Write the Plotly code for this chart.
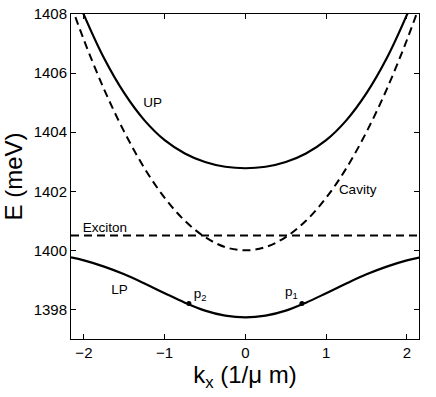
import plotly.graph_objects as go

# wavevector samples (1/um) and energies (meV)
k_values = [-2.16, -2.0, -1.75, -1.5, -1.25, -1.0, -0.75, -0.5, -0.25, 0.0,
            0.25, 0.5, 0.75, 1.0, 1.25, 1.5, 1.75, 2.0, 2.16]
upper_polariton = [1409.04, 1407.97, 1406.50, 1405.32, 1404.40, 1403.73, 1403.28, 1402.99, 1402.83, 1402.78,
                   1402.83, 1402.99, 1403.28, 1403.73, 1404.40, 1405.32, 1406.50, 1407.97, 1409.04]
lower_polariton = [1399.76, 1399.66, 1399.45, 1399.19, 1398.88, 1398.55, 1398.23, 1397.96, 1397.79, 1397.73,
                   1397.79, 1397.96, 1398.23, 1398.55, 1398.88, 1399.19, 1399.45, 1399.66, 1399.76]
cavity_mode = [1408.31, 1407.12, 1405.45, 1404.01, 1402.78, 1401.78, 1401.00, 1400.45, 1400.11, 1400.00,
               1400.11, 1400.45, 1401.00, 1401.78, 1402.78, 1404.01, 1405.45, 1407.12, 1408.31]
exciton_k = [-2.16, 2.16]
exciton_level = [1400.5, 1400.5]

pump_k = [-0.7, 0.7]
pump_e = [1398.2, 1398.2]

label_text = ["UP", "Cavity", "Exciton", "LP", "p<sub>2</sub>", "p<sub>1</sub>"]
label_k = [-1.15, 1.39, -1.74, -1.56, -0.56, 0.57]
label_e = [1404.97, 1402.03, 1400.75, 1398.65, 1398.5, 1398.57]

LINE_COLOR = "black"

fig = go.Figure()
fig.add_trace(go.Scatter(x=k_values, y=cavity_mode, mode="lines", line_shape="spline",
                         line={"color": LINE_COLOR, "width": 2, "dash": "8px,5px"}))
fig.add_trace(go.Scatter(x=exciton_k, y=exciton_level, mode="lines",
                         line={"color": LINE_COLOR, "width": 2, "dash": "8px,5px"}))
fig.add_trace(go.Scatter(x=k_values, y=upper_polariton, mode="lines", line_shape="spline",
                         line={"color": LINE_COLOR, "width": 2.2}))
fig.add_trace(go.Scatter(x=k_values, y=lower_polariton, mode="lines", line_shape="spline",
                         line={"color": LINE_COLOR, "width": 2.2}))
fig.add_trace(go.Scatter(x=pump_k, y=pump_e, mode="markers",
                         marker={"color": LINE_COLOR, "size": 5}))
fig.add_trace(go.Scatter(x=label_k, y=label_e, mode="text", text=label_text,
                         textfont={"size": 13.5, "color": LINE_COLOR}))

fig.update_layout(
    width=436,
    height=397,
    showlegend=False,
    template="plotly_white",
    paper_bgcolor="white",
    plot_bgcolor="white",
    margin={"l": 71, "r": 17, "t": 14, "b": 58, "autoexpand": False},
    font={"family": "Liberation Sans, Arial, sans-serif", "color": "black", "size": 15},
)
axis_style = dict(
    showline=True,
    linecolor="black",
    linewidth=1,
    mirror="allticks",
    ticks="inside",
    ticklen=5,
    tickcolor="black",
    showgrid=False,
    zeroline=False,
    automargin=True,
    tickfont={"size": 15},
)
fig.update_xaxes(range=[-2.16, 2.15], tickvals=[-2, -1, 0, 1, 2],
                 title={"text": "k<sub>x</sub> (1/μ m)", "font": {"size": 24}, "standoff": 4},
                 **axis_style)
fig.update_yaxes(range=[1397, 1408], tickvals=[1398, 1400, 1402, 1404, 1406, 1408],
                 title={"text": "E (meV)", "font": {"size": 24}, "standoff": 8},
                 **axis_style)

# the page body has an 8px default margin; drop it so the figure sits at the window corner
fig.write_html("out.html", config={"displayModeBar": False},
               post_script="document.body.style.margin='0';")
